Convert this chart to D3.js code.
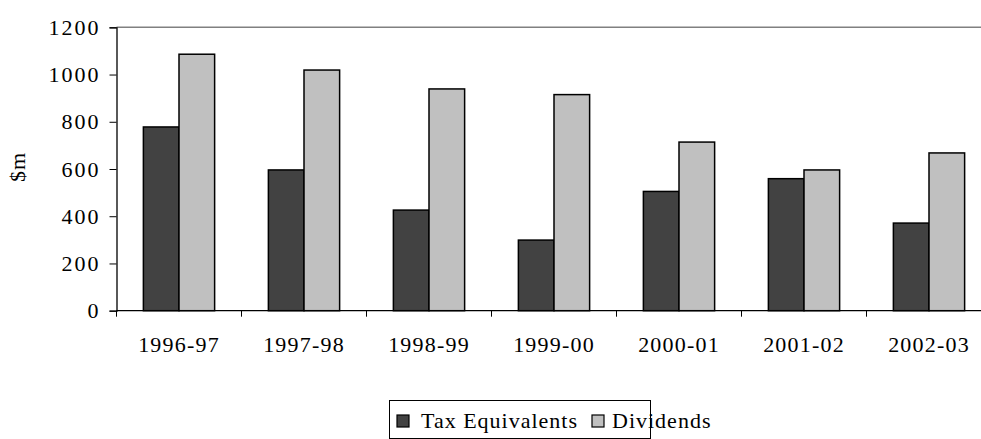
<!DOCTYPE html>
<html>
<head>
<meta charset="utf-8">
<script src="https://cdn.jsdelivr.net/npm/d3@7"></script>
<style>
  html, body { margin: 0; padding: 0; background: #fff; }
  svg { display: block; font-family: "Liberation Serif", "Times New Roman", serif; }
</style>
</head>
<body>
<svg id="chart" width="981" height="439"></svg>
<script>
// Financial years on the category axis
const years = ["1996-97", "1997-98", "1998-99", "1999-00", "2000-01", "2001-02", "2002-03"];
// Payments by year, $m
const taxEquivalents = [778, 596, 426, 299, 505, 559, 371];
const dividends = [1086, 1019, 939, 915, 714, 596, 668];
const seriesNames = ["Tax Equivalents", "Dividends"];
const seriesColors = ["#424242", "#c0c0c0"];
const yTicks = [0, 200, 400, 600, 800, 1000, 1200];

const svg = d3.select("#chart");

const plot = { left: 116.5, top: 27.3, bottom: 310.7, step: 125 };

const y = d3.scaleLinear().domain([0, 1200]).range([plot.bottom, plot.top]);
const x0 = d3.scaleBand()
  .domain(years)
  .range([plot.left, plot.left + plot.step * years.length])
  .paddingInner(0.43)
  .paddingOuter(0.215);
const x1 = d3.scaleBand().domain(seriesNames).range([0, x0.bandwidth()]);
const tick = d3.scaleBand().domain(years).range([plot.left, plot.left + plot.step * years.length]);

// top boundary of the value range
svg.append("line")
  .attr("x1", plot.left).attr("x2", 981)
  .attr("y1", y(1200)).attr("y2", y(1200))
  .attr("stroke", "#808080").attr("stroke-width", 1.5);

// bars
const rows = years.map((yr, i) => ({ year: yr, values: [taxEquivalents[i], dividends[i]] }));
const groups = svg.append("g").selectAll("g").data(rows).join("g")
  .attr("transform", d => `translate(${x0(d.year)},0)`);
groups.selectAll("rect")
  .data(d => d.values.map((v, k) => ({ name: seriesNames[k], value: v, k })))
  .join("rect")
  .attr("x", d => x1(d.name))
  .attr("y", d => y(d.value))
  .attr("width", x1.bandwidth())
  .attr("height", d => y(0) - y(d.value))
  .attr("fill", d => seriesColors[d.k])
  .attr("stroke", "#000")
  .attr("stroke-width", 1.5);

// y axis
const yAxis = svg.append("g")
  .attr("transform", `translate(${plot.left},0)`)
  .call(d3.axisLeft(y).tickValues(yTicks).tickSize(7).tickPadding(9).tickFormat(d3.format("d")));
yAxis.select(".domain").attr("stroke", "#000").attr("stroke-width", 1.3);
yAxis.selectAll(".tick line").attr("stroke", "#000");
yAxis.selectAll(".tick text")
  .attr("font-family", "Liberation Serif, serif")
  .attr("font-size", 22)
  .attr("letter-spacing", 2)
  .attr("fill", "#000");

// x axis: ticks sit on the category boundaries, labels centred on each category
svg.append("line")
  .attr("x1", plot.left).attr("x2", 981)
  .attr("y1", y(0)).attr("y2", y(0))
  .attr("stroke", "#000").attr("stroke-width", 1.3);
svg.append("g").selectAll("line").data(years).join("line")
  .attr("x1", d => tick(d)).attr("x2", d => tick(d))
  .attr("y1", y(0)).attr("y2", y(0) + 6)
  .attr("stroke", "#000");
svg.append("line")
  .attr("x1", tick(years[years.length - 1]) + tick.bandwidth())
  .attr("x2", tick(years[years.length - 1]) + tick.bandwidth())
  .attr("y1", y(0)).attr("y2", y(0) + 6).attr("stroke", "#000");
svg.append("g").selectAll("text").data(years).join("text")
  .attr("x", d => tick(d) + tick.bandwidth() / 2)
  .attr("y", 351.5)
  .attr("text-anchor", "middle")
  .attr("font-size", 22)
  .attr("letter-spacing", 1.2)
  .text(d => d);

// y axis title
svg.append("text")
  .attr("transform", "translate(25,167) rotate(-90)")
  .attr("text-anchor", "middle")
  .attr("font-size", 22)
  .attr("letter-spacing", 1)
  .text("$m");

// legend
const legend = svg.append("g");
legend.append("rect")
  .attr("x", 389.5).attr("y", 400.5).attr("width", 261).attr("height", 38)
  .attr("fill", "#fff").attr("stroke", "#000").attr("stroke-width", 1);
const legendItems = [
  { name: seriesNames[0], color: seriesColors[0], sx: 397, tx: 421 },
  { name: seriesNames[1], color: seriesColors[1], sx: 592, tx: 612 }
];
legend.selectAll("rect.key").data(legendItems).join("rect")
  .attr("class", "key")
  .attr("x", d => d.sx).attr("y", 415)
  .attr("width", 12).attr("height", 12)
  .attr("fill", d => d.color).attr("stroke", "#000").attr("stroke-width", 1.2);
legend.selectAll("text").data(legendItems).join("text")
  .attr("x", d => d.tx).attr("y", 428)
  .attr("font-size", 22)
  .attr("letter-spacing", 1)
  .text(d => d.name);
</script>
</body>
</html>
